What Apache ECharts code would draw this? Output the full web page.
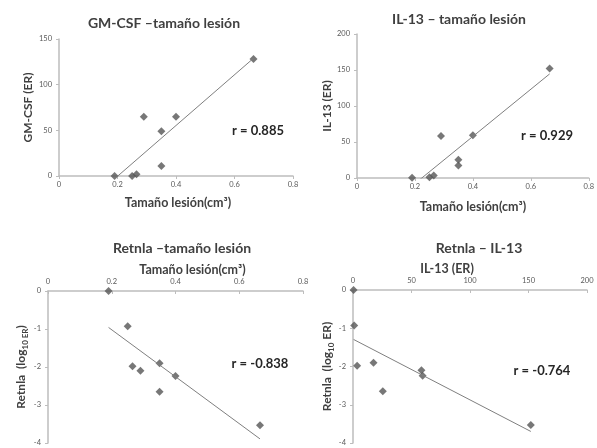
<!DOCTYPE html>
<html>
<head>
<meta charset="utf-8">
<script src="https://cdn.jsdelivr.net/npm/echarts@6/dist/echarts.min.js"></script>
<style>
    html, body { margin: 0; padding: 0; background: #fff; }
    #chart { width: 597px; height: 448px; }
</style>
</head>
<body>
<div id="chart"></div>
<script>
// valores (un punto por animal)
var size = [0.19, 0.25, 0.265, 0.29, 0.35, 0.35, 0.40, 0.665];
var gmcsf = [0, 0, 2, 65, 49, 11, 65, 128];
var il13 = [0.5, 1, 3.5, 58.5, 17.5, 25.5, 59.5, 152];
var retnla = [0, -0.93, -1.98, -2.1, -1.9, -2.65, -2.24, -3.53];

var titles = ["GM-CSF \u2013tama\u00f1o lesi\u00f3n", "IL-13 \u2013 tama\u00f1o lesi\u00f3n", "Retnla \u2013tama\u00f1o lesi\u00f3n", "Retnla \u2013 IL-13"];
var rLabels = ["r = 0.885", "r = 0.929", "r = -0.838", "r = -0.764"];
var sizeTicks = [0, 0.8, 0.2];
var il13Ticks = [0, 200, 50];

var font = "Lato, 'DejaVu Sans', sans-serif";
var txt = "#404040";

function pairs(xs, ys) {
    var out = [];
    for (var i = 0; i < xs.length; i++) out.push([xs[i], ys[i]]);
    return out;
}
// linea de tendencia (minimos cuadrados, como en Excel)
function trend(xs, ys) {
    var n = xs.length, mx = 0, my = 0, sxy = 0, sxx = 0;
    for (var i = 0; i < n; i++) { mx += xs[i] / n; my += ys[i] / n; }
    for (var i = 0; i < n; i++) {
        sxy += (xs[i] - mx) * (ys[i] - my);
        sxx += (xs[i] - mx) * (xs[i] - mx);
    }
    var b = sxy / sxx, a = my - b * mx;
    var lo = Math.min.apply(null, xs), hi = Math.max.apply(null, xs);
    return [[lo, a + b * lo], [hi, a + b * hi]];
}

function xAxis(i, ticks, name, top, pad, gap) {
    return {
        gridIndex: i, type: "value", min: ticks[0], max: ticks[1], interval: ticks[2],
        position: top ? "top" : "bottom",
        name: name, nameLocation: "middle", nameGap: gap,
        nameTextStyle: { fontFamily: font, fontSize: 12.5, fontWeight: "bold", color: txt, padding: pad },
        axisLine: { onZero: false, lineStyle: { color: "#bdbdbd", width: 1.5 } },
        axisTick: { show: true, inside: top, length: 3, lineStyle: { color: "#bdbdbd" } },
        axisLabel: { fontFamily: font, fontSize: 7.5, color: "#595959", margin: 5 },
        splitLine: { show: false }
    };
}
function yAxis(i, min, max, step, name, gap) {
    return {
        gridIndex: i, type: "value", min: min, max: max, interval: step,
        name: name, nameLocation: "middle", nameGap: gap,
        nameTextStyle: {
            fontFamily: font, fontSize: 12, fontWeight: "bold", color: txt,
            rich: {
                a: { fontFamily: font, fontSize: 12, fontWeight: "bold", color: txt, lineHeight: 15 },
                s: { fontFamily: font, fontSize: 8, fontWeight: "bold", color: txt, verticalAlign: "bottom", lineHeight: 15 }
            }
        },
        axisLine: { show: true, onZero: false, lineStyle: { color: "#bdbdbd", width: 1.5 } },
        axisTick: { show: true, length: 3, lineStyle: { color: "#bdbdbd" } },
        axisLabel: { fontFamily: font, fontSize: 7.5, color: "#595959", margin: 7 },
        splitLine: { show: false }
    };
}
function dots(i, data) {
    return {
        type: "scatter", xAxisIndex: i, yAxisIndex: i, data: data,
        symbol: "diamond", symbolSize: 8,
        itemStyle: { color: "#555555" }, silent: true
    };
}
function line(i, data) {
    return {
        type: "line", xAxisIndex: i, yAxisIndex: i, data: data,
        symbol: "none", clip: true,
        lineStyle: { color: "#7f7f7f", width: 1 }, silent: true
    };
}

var titlePos = [[159, 11], [454, 7], [177, 236], [474, 236]];
var rPos = [[258, 131], [547, 136], [260, 364], [542, 371]];

var chart = echarts.init(document.getElementById("chart"));
chart.setOption({
    animation: false,
    backgroundColor: "#fff",
    title: titles.map(function(t, i) {
        return {
            text: t, left: titlePos[i][0], top: titlePos[i][1], textAlign: "center",
            textStyle: { fontFamily: font, fontSize: 14, fontWeight: "bold", color: txt }
        };
    }),
    grid: [
        { left: 59, right: 304, top: 39, bottom: 272 },
        { left: 357, right: 7, top: 34, bottom: 270 },
        { left: 48, right: 294, top: 291, bottom: 5 },
        { left: 353, right: 10, top: 290, bottom: 5 }
    ],
    xAxis: [
        xAxis(0, sizeTicks, "Tama\u00f1o lesi\u00f3n(cm\u00b3)", false, [0, 0, 0, 4], 20),
        xAxis(1, sizeTicks, "Tama\u00f1o lesi\u00f3n(cm\u00b3)", false, [0, 0, 0, 0], 22),
        xAxis(2, sizeTicks, "Tama\u00f1o lesi\u00f3n(cm\u00b3)", true, [0, 0, 0, 34], 15),
        xAxis(3, il13Ticks, "IL-13 (ER)", true, [0, 46, 0, 0], 15)
    ],
    yAxis: [
        yAxis(0, 0, 150, 50, "GM-CSF (ER)", 25),
        yAxis(1, 0, 200, 50, "IL-13 (ER)", 19),
        yAxis(2, -4, 0, 1, "{a|Retnla  (log}{s|10 ER}{a|)}", 19),
        yAxis(3, -4, 0, 1, "{a|Retnla  (log}{s|10}{a| ER)}", 15)
    ],
    series: [
        line(0, trend(size, gmcsf)), dots(0, pairs(size, gmcsf)),
        line(1, trend(size, il13)), dots(1, pairs(size, il13)),
        line(2, trend(size, retnla)), dots(2, pairs(size, retnla)),
        line(3, trend(il13, retnla)), dots(3, pairs(il13, retnla))
    ],
    graphic: rLabels.map(function(t, i) {
        return {
            type: "text", x: rPos[i][0], y: rPos[i][1], silent: true,
            style: {
                text: t, align: "center", verticalAlign: "middle",
                font: "bold 13px " + font, fill: "#262626"
            }
        };
    })
});
</script>
</body>
</html>
